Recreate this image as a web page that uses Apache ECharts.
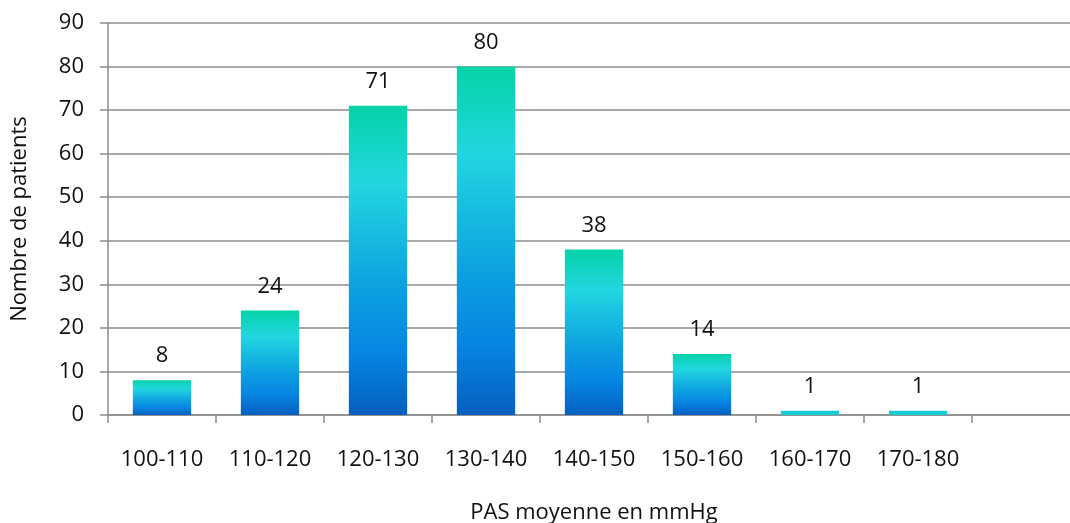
<!DOCTYPE html>
<html><head><meta charset="utf-8">
<script src="https://cdn.jsdelivr.net/npm/echarts@6/dist/echarts.min.js"></script>
<style>html,body{margin:0;padding:0;background:#fff}#c{width:1070px;height:523px}</style>
</head><body><div id="c"></div>
<script>
const categories = ['100-110','110-120','120-130','130-140','140-150','150-160','160-170','170-180',''];
const patients = [8, 24, 71, 80, 38, 14, 1, 1, null];
const yTicks = {min: 0, max: 90, interval: 10};
const xTitle = 'PAS moyenne en mmHg';
const yTitle = 'Nombre de patients';

const FONT = '"Open Sans", sans-serif';
const chart = echarts.init(document.getElementById('c'), null, {renderer: 'canvas'});
const grad = new echarts.graphic.LinearGradient(0, 0, 0, 1, [
  {offset: 0, color: '#05D3A8'},
  {offset: 0.25, color: '#22D6E0'},
  {offset: 0.6, color: '#0C9FE0'},
  {offset: 0.8, color: '#0685E2'},
  {offset: 1, color: '#055FBF'}
]);
// very thin bars render as the flat cyan seen in the reference
const barData = patients.map(v => (v !== null && v < 3) ? {value: v, itemStyle: {color: '#17CCD2'}} : v);
chart.setOption({
  animation: false,
  grid: {left: 108, top: 23, bottom: 108, width: 972, containLabel: false, outerBoundsMode: 'none'},
  xAxis: {
    type: 'category', data: categories,
    axisLine: {lineStyle: {color: '#8c8c8c', width: 1.5}},
    axisTick: {show: true, length: 8, alignWithLabel: false, lineStyle: {color: '#8c8c8c', width: 1.5}},
    axisLabel: {color: '#111', fontFamily: FONT, fontSize: 22, margin: 34},
    name: xTitle, nameLocation: 'middle', nameGap: 87,
    nameTextStyle: {color: '#111', fontFamily: FONT, fontSize: 22}
  },
  yAxis: {
    type: 'value', min: yTicks.min, max: yTicks.max, interval: yTicks.interval,
    axisLine: {show: true, lineStyle: {color: '#8c8c8c', width: 1.5}},
    axisTick: {show: true, length: 8, lineStyle: {color: '#8c8c8c', width: 1.5}},
    splitLine: {lineStyle: {color: '#8c8c8c', width: 1.5}},
    axisLabel: {color: '#111', fontFamily: FONT, fontSize: 22, margin: 24},
    name: yTitle, nameLocation: 'middle', nameGap: 77, nameRotate: 90,
    nameTextStyle: {color: '#111', fontFamily: FONT, fontSize: 22}
  },
  series: [{
    type: 'bar', data: barData, barWidth: '54%',
    itemStyle: {color: grad},
    label: {show: true, position: 'top', distance: 13, color: '#111', fontFamily: FONT, fontSize: 22}
  }]
});
</script></body></html>
